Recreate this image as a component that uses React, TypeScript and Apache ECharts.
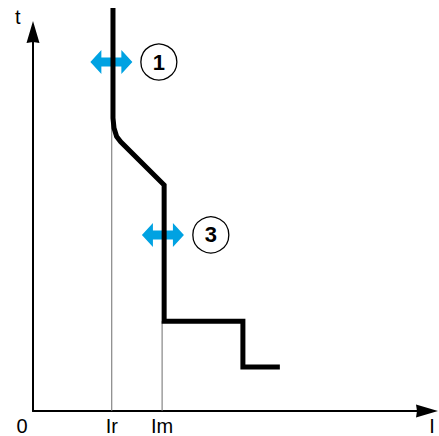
import React, { useEffect, useRef } from "react";
import * as echarts from "echarts";

// Axis tick labels and positions (in chart units, x: 0..100, y: 0..100)
const xTickLabels = ["0", "Ir", "Im", "I"];
const xTickValues = [0, 19.4, 31.8, 98.3];

// Tripping curve (thick black)
const curveX = [19.7, 19.7, 19.95, 20.6, 21.6, 32.3, 32.3, 51.7, 51.7, 60.8];
const curveY = [100, 72.7, 70.2, 68.1, 66.8, 56.1, 22.3, 22.3, 10.9, 10.9];

// Thin reference lines at Ir and Im
const irLineX = [19.4, 19.4];
const irLineY = [0, 72];
const imLineX = [31.8, 31.8];
const imLineY = [0, 22.3];

// Adjustment arrows and numbered markers
const arrowX = [19.3, 32.0];
const arrowY = [86.6, 43.7];
const markerX = [31.0, 43.8];
const markerY = [86.6, 43.7];
const markerLabels = ["1", "3"];

const FONT = "'Liberation Sans', Arial, Helvetica, sans-serif";
const ARROW_PATH =
  "path://M0,12 L11,0 L11,7.5 L31,7.5 L31,0 L42,12 L31,24 L31,16.5 L11,16.5 L11,24 Z";
const AXIS_ARROW = "path://M0,0 L6.5,22 L0,21 L-6.5,22 Z";

const zip = (xs: number[], ys: number[]) => xs.map((x, i) => [x, ys[i]]);

export default function App() {
  const ref = useRef<HTMLDivElement>(null);

  useEffect(() => {
    if (!ref.current) return;
    const chart = echarts.init(ref.current, undefined, { renderer: "svg" });

    const axisLineWithArrow = {
      show: true,
      onZero: false,
      symbol: ["none", AXIS_ARROW],
      symbolSize: [13, 22],
      lineStyle: { color: "#000", width: 2 },
    };

    const option: any = {
      animation: false,
      backgroundColor: "#ffffff",
      textStyle: { fontFamily: FONT },
      grid: [
        // grid 0: only the axis lines with arrows
        { left: 33, right: 12, top: 32, bottom: 25, outerBoundsMode: "none", containLabel: false },
        // grid 1: data
        { left: 33, right: 0, top: 8, bottom: 25, outerBoundsMode: "none", containLabel: false },
      ],
      xAxis: [
        {
          gridIndex: 0,
          type: "value",
          min: 0,
          max: 1,
          axisLine: axisLineWithArrow,
          axisTick: { show: false },
          axisLabel: { show: false },
          splitLine: { show: false },
        },
        {
          gridIndex: 1,
          type: "value",
          min: 0,
          max: 100,
          axisLine: { show: false },
          axisTick: { show: false },
          splitLine: { show: false },
          axisLabel: {
            show: true,
            customValues: xTickValues,
            margin: 5,
            color: "#000",
            fontSize: 20,
            lineHeight: 20,
            fontFamily: FONT,
            formatter: (v: number) => {
              const i = xTickValues.findIndex((t) => Math.abs(t - v) < 1e-6);
              const s = i >= 0 ? xTickLabels[i] : "";
              return i === 0 ? "{o|" + s + "}" : s;
            },
            rich: {
              o: {
                fontSize: 20,
                lineHeight: 20,
                fontFamily: FONT,
                color: "#000",
                padding: [0, 22, 0, 0],
              },
            },
          },
        },
      ],
      yAxis: [
        {
          gridIndex: 0,
          type: "value",
          min: 0,
          max: 1,
          axisLine: axisLineWithArrow,
          axisTick: { show: false },
          axisLabel: { show: false },
          splitLine: { show: false },
        },
        {
          gridIndex: 1,
          type: "value",
          min: 0,
          max: 100,
          axisLine: { show: false },
          axisTick: { show: false },
          axisLabel: { show: false },
          splitLine: { show: false },
        },
      ],
      graphic: [
        {
          type: "text",
          left: 15,
          top: 7,
          style: { text: "t", fontSize: 20, fontFamily: FONT, fill: "#000" },
        },
      ],
      series: [
        {
          type: "line",
          xAxisIndex: 1,
          yAxisIndex: 1,
          data: zip(irLineX, irLineY),
          showSymbol: false,
          silent: true,
          lineStyle: { color: "#6e6e6e", width: 1 },
        },
        {
          type: "line",
          xAxisIndex: 1,
          yAxisIndex: 1,
          data: zip(imLineX, imLineY),
          showSymbol: false,
          silent: true,
          lineStyle: { color: "#6e6e6e", width: 1 },
        },
        {
          type: "scatter",
          xAxisIndex: 1,
          yAxisIndex: 1,
          data: zip(arrowX, arrowY),
          symbol: ARROW_PATH,
          symbolSize: [42, 24],
          silent: true,
          itemStyle: { color: "#00a2e2", opacity: 1 },
        },
        {
          type: "line",
          xAxisIndex: 1,
          yAxisIndex: 1,
          data: zip(curveX, curveY),
          showSymbol: false,
          silent: true,
          clip: false,
          lineStyle: { color: "#000", width: 5, join: "miter", cap: "butt" },
        },
        {
          type: "scatter",
          xAxisIndex: 1,
          yAxisIndex: 1,
          data: zip(markerX, markerY).map((p, i) => ({ value: p, name: markerLabels[i] })),
          symbol: "circle",
          symbolSize: 36,
          silent: true,
          itemStyle: { color: "#ffffff", borderColor: "#000", borderWidth: 1.3, opacity: 1 },
          label: {
            show: true,
            position: "inside",
            formatter: (p: any) => markerLabels[p.dataIndex],
            color: "#000",
            fontSize: 22,
            fontWeight: "bold",
            fontFamily: FONT,
          },
        },
      ],
    };

    chart.setOption(option);
    return () => chart.dispose();
  }, []);

  return (
    <div
      ref={ref}
      style={{ position: "fixed", left: 0, top: 0, width: 439, height: 436, background: "#fff" }}
    />
  );
}
